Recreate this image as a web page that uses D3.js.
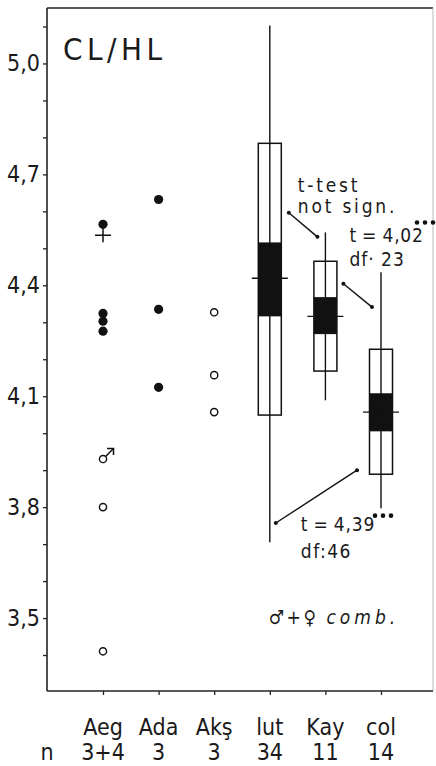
<!DOCTYPE html>
<html>
<head>
<meta charset="utf-8">
<script src="https://cdn.jsdelivr.net/npm/d3@7"></script>
<style>
  body { margin: 0; background: #fff; }
  svg text { font-family: "DejaVu Sans Condensed", "DejaVu Sans", sans-serif; fill: #1a1a1a; }
</style>
</head>
<body>
<div id="chartDiv"></div>
<script>
//--------------------------------------------------------------------------------
// data
var categories = ["Aeg", "Ada", "Akş", "lut", "Kay", "col"];
var nLabels    = ["3+4", "3", "3", "34", "11", "14"];
var yTickLabels = [3.5, 3.8, 4.1, 4.4, 4.7, 5.0];
var yMinorTicks = [3.4, 3.5, 3.6, 3.7, 3.8, 3.9, 4.0, 4.1, 4.2, 4.3, 4.4, 4.5, 4.6, 4.7, 4.8, 4.9, 5.0, 5.1];

var aegFemales = [4.565, 4.324, 4.303, 4.276];   // first one carries the female sign
var aegMales   = [3.93, 3.80, 3.41];             // first one carries the male sign
var adaValues  = [4.632, 4.335, 4.124];
var aksValues  = [4.327, 4.157, 4.057];

var boxCats  = ["lut", "Kay", "col"];
var boxMin   = [3.705, 4.089, 3.797];
var boxQ1    = [4.049, 4.168, 3.889];
var boxLo    = [4.316, 4.268, 4.005];
var boxMean  = [4.419, 4.316, 4.057];
var boxHi    = [4.516, 4.368, 4.108];
var boxQ3    = [4.784, 4.465, 4.227];
var boxMax   = [5.103, 4.543, 4.435];

//--------------------------------------------------------------------------------
var width = 436, height = 766;
var frame = {left: 47, right: 433, top: 8, bottom: 691};

var svg = d3.select("#chartDiv").append("svg")
    .attr("width", width)
    .attr("height", height);

var xScale = d3.scalePoint()
               .domain(categories)
               .range([103, 381]);

var yScale = d3.scaleLinear()
               .domain([3.3, 5.15])
               .range([692, 8]);

  // frame: top + left + bottom dark, right side faint
svg.append("line").attr("x1", frame.left).attr("x2", frame.right)
   .attr("y1", frame.top).attr("y2", frame.top)
   .attr("stroke", "#222").attr("stroke-width", 1.6);
svg.append("line").attr("x1", frame.right).attr("x2", frame.right)
   .attr("y1", frame.top).attr("y2", frame.bottom)
   .attr("stroke", "#bbb").attr("stroke-width", 1);

var yAxis = d3.axisLeft(yScale)
              .tickValues(yMinorTicks)
              .tickSize(4)
              .tickFormat("");

svg.append("g")
   .attr("transform", "translate(" + frame.left + ",0)")
   .call(yAxis)
   .call(function(g){
      g.select(".domain").attr("d", "M0," + frame.top + "V" + frame.bottom)
       .attr("stroke", "#222").attr("stroke-width", 1.6);
      g.selectAll(".tick line").attr("stroke", "#222").attr("stroke-width", 1.3);
      });

svg.append("g")
   .selectAll("text")
   .data(yTickLabels)
   .enter()
   .append("text")
   .attr("x", 40)
   .attr("y", function(d){ return yScale(d) + 8; })
   .attr("text-anchor", "end")
   .style("font-size", "23px")
   .text(function(d){ return d.toFixed(1).replace(".", ","); });

var xAxis = d3.axisBottom(xScale)
              .tickSize(4)
              .tickFormat("");

svg.append("g")
   .attr("transform", "translate(0," + frame.bottom + ")")
   .call(xAxis)
   .call(function(g){
      g.select(".domain").attr("d", "M" + frame.left + ",0H" + frame.right)
       .attr("stroke", "#222").attr("stroke-width", 1.6);
      g.selectAll(".tick line").attr("stroke", "#222").attr("stroke-width", 1.3);
      });

svg.append("g")
   .selectAll("text")
   .data(categories)
   .enter()
   .append("text")
   .attr("x", function(d){ return xScale(d); })
   .attr("y", 735)
   .attr("text-anchor", "middle")
   .style("font-size", "23px")
   .text(function(d){ return d; });

svg.append("g")
   .selectAll("text")
   .data(nLabels)
   .enter()
   .append("text")
   .attr("x", function(d, i){ return xScale(categories[i]); })
   .attr("y", 760)
   .attr("text-anchor", "middle")
   .style("font-size", "23px")
   .text(function(d){ return d; });

svg.append("text")
   .attr("x", 47).attr("y", 760)
   .attr("text-anchor", "middle")
   .style("font-size", "23px")
   .text("n");

svg.append("text")
   .attr("x", 63).attr("y", 60)
   .style("font-size", "31px")
   .style("letter-spacing", "4.5px")
   .text("CL/HL");

//--------------------------------------------------------------------------------
// single specimens
function filledDots(cat, values) {
   svg.append("g")
      .selectAll("circle")
      .data(values)
      .enter()
      .append("circle")
      .attr("cx", xScale(cat))
      .attr("cy", function(d){ return yScale(d); })
      .attr("r", 4.6)
      .attr("fill", "#111");
}

function openDots(cat, values) {
   svg.append("g")
      .selectAll("circle")
      .data(values)
      .enter()
      .append("circle")
      .attr("cx", xScale(cat))
      .attr("cy", function(d){ return yScale(d); })
      .attr("r", 3.6)
      .attr("fill", "#fff")
      .attr("stroke", "#111")
      .attr("stroke-width", 1.4);
}

filledDots("Aeg", aegFemales);
filledDots("Ada", adaValues);
openDots("Aeg", aegMales);
openDots("Akş", aksValues);

  // female sign: cross under the top Aeg dot
var fx = xScale("Aeg"), fy = yScale(aegFemales[0]);
svg.append("path")
   .attr("d", "M" + fx + "," + (fy + 4) + "V" + (fy + 18) +
              "M" + (fx - 8) + "," + (fy + 11) + "H" + (fx + 8))
   .attr("stroke", "#111").attr("stroke-width", 1.5).attr("fill", "none");

  // male sign: arrow off the top open Aeg circle
var mx = xScale("Aeg"), my = yScale(aegMales[0]);
svg.append("path")
   .attr("d", "M" + (mx + 2.6) + "," + (my - 2.6) + "L" + (mx + 10) + "," + (my - 10))
   .attr("stroke", "#111").attr("stroke-width", 1.5);
svg.append("path")
   .attr("d", "M" + (mx + 4) + "," + (my - 10.5) + "L" + (mx + 10.5) + "," + (my - 10.5) +
              "L" + (mx + 10.5) + "," + (my - 4))
   .attr("stroke", "#111").attr("stroke-width", 1.5).attr("fill", "none");

//--------------------------------------------------------------------------------
// box plots
var boxWidth = 23, meanWidth = 36;
var boxes = svg.append("g")
   .selectAll("g")
   .data(boxCats)
   .enter()
   .append("g");

boxes.append("rect")
   .attr("x", function(d){ return xScale(d) - boxWidth / 2; })
   .attr("y", function(d, i){ return yScale(boxQ3[i]); })
   .attr("width", boxWidth)
   .attr("height", function(d, i){ return yScale(boxQ1[i]) - yScale(boxQ3[i]); })
   .attr("fill", "#fff")
   .attr("stroke", "#111")
   .attr("stroke-width", 1.5);

boxes.append("rect")
   .attr("x", function(d){ return xScale(d) - boxWidth / 2; })
   .attr("y", function(d, i){ return yScale(boxHi[i]); })
   .attr("width", boxWidth)
   .attr("height", function(d, i){ return yScale(boxLo[i]) - yScale(boxHi[i]); })
   .attr("fill", "#111");

boxes.append("line")
   .attr("x1", function(d){ return xScale(d); })
   .attr("x2", function(d){ return xScale(d); })
   .attr("y1", function(d, i){ return yScale(boxMax[i]); })
   .attr("y2", function(d, i){ return yScale(boxMin[i]); })
   .attr("stroke", "#111")
   .attr("stroke-width", 1.4);

boxes.append("line")
   .attr("x1", function(d){ return xScale(d) - meanWidth / 2; })
   .attr("x2", function(d){ return xScale(d) + meanWidth / 2; })
   .attr("y1", function(d, i){ return yScale(boxMean[i]); })
   .attr("y2", function(d, i){ return yScale(boxMean[i]); })
   .attr("stroke", "#111")
   .attr("stroke-width", 1.4);

//--------------------------------------------------------------------------------
// annotations (x = category + pixel offset, y = value)
var arrows = [
   {from: ["lut", 19, 4.596], to: ["Kay", -8, 4.531]},
   {from: ["Kay", 18, 4.404], to: ["col", -9, 4.341]},
   {from: ["lut", 6, 3.757],  to: ["col", -24, 3.900]}
];

arrows.forEach(function(a){
   var x1 = xScale(a.from[0]) + a.from[1], y1 = yScale(a.from[2]);
   var x2 = xScale(a.to[0]) + a.to[1],     y2 = yScale(a.to[2]);
   svg.append("line")
      .attr("x1", x1).attr("y1", y1).attr("x2", x2).attr("y2", y2)
      .attr("stroke", "#111").attr("stroke-width", 1.4);
   svg.selectAll(null).data([[x1, y1], [x2, y2]]).enter()
      .append("circle")
      .attr("cx", function(d){ return d[0]; })
      .attr("cy", function(d){ return d[1]; })
      .attr("r", 2)
      .attr("fill", "#111");
   });

function note(cat, dx, value, txt, size, spacing) {
   return svg.append("text")
      .attr("x", xScale(cat) + dx)
      .attr("y", yScale(value))
      .style("font-size", size + "px")
      .style("letter-spacing", spacing + "px")
      .text(txt);
}

function stars(cat, dx, value) {
   svg.append("g").selectAll("circle")
      .data([0, 1, 2]).enter()
      .append("circle")
      .attr("cx", function(d){ return xScale(cat) + dx + d * 8; })
      .attr("cy", yScale(value))
      .attr("r", 2.3)
      .attr("fill", "#111");
}

note("lut", 28, 4.652, "t-test", 19, 2.8);
note("lut", 28, 4.596, "not sign.", 19, 2.8);
note("Kay", 24, 4.516, "t = 4,02", 19, 0.8).style("word-spacing", "-1px");
note("Kay", 24, 4.451, "df· 23", 19, 1);
stars("col", 36, 4.57);

note("lut", 31, 3.736, "t = 4,39", 19, 0.8).style("word-spacing", "-1px");
note("lut", 31, 3.662, "df:46", 19, 1.5);
stars("col", -6, 3.777);

var legend = note("lut", -1, 3.484, "♂+♀ ", 19, 2.5);
legend.append("tspan").style("font-style", "italic").style("letter-spacing", "4px").text("comb.");
</script>
</body>
</html>
